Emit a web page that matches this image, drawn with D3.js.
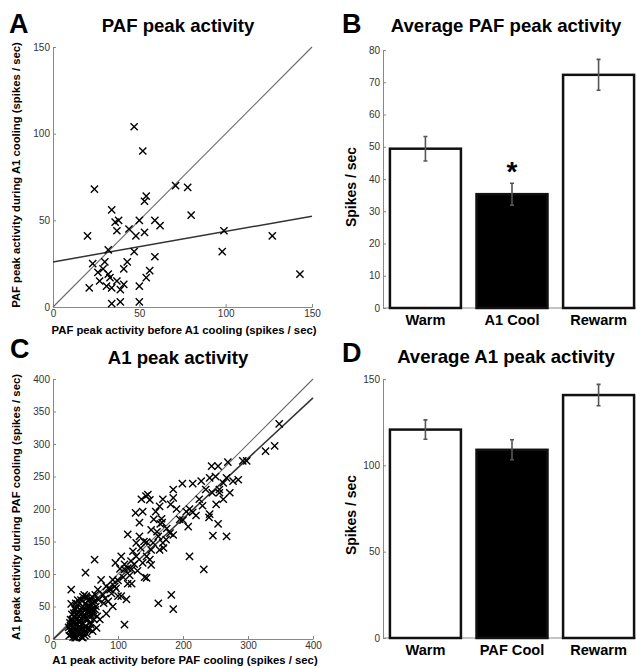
<!DOCTYPE html>
<html>
<head>
<meta charset="utf-8">
<script src="https://cdn.jsdelivr.net/npm/d3@7"></script>
<style>
  body { margin: 0; background: #fff; }
  svg text { font-family: "Liberation Sans", Arial, Helvetica, sans-serif; }
  .axis path, .axis line { stroke: #888; stroke-width: 1; }
  .axis text { fill: #333; font-size: 10px; }
</style>
</head>
<body>
<div id="chart"></div>
<script>
// ---- data ----

// panel A : PAF peak activity, before vs during A1 cooling (spikes/sec)
var pafBefore = [47,52,24,71,78,54,53,80,34,36,38,50,59,62,37,44,48,53,20,99,127,98,47,32,59,143,
                 23,30,43,41,26,29,32,33,27,37,56,54,21,31,34,39,41,50,34,39,50];
var pafDuring = [104,90,68,70,69,64,61,53,56,49,50,50,50,47,44,45,41,43,41,44,41,32,32,33,29,19,
                 25,26,26,22,20,22,19,17,15,15,21,17,11,12,11,10,13,12,2,3,3];
var pafFit = [26, 0.176];          // intercept, slope
var pafTicks = [0, 50, 100, 150];

// panel B : average PAF peak activity
var bCategories = ["Warm", "A1 Cool", "Rewarm"];
var bMeans = [49.4, 35.3, 72.3];
var bErrors = [3.8, 3.4, 4.8];
var bTicks = [0, 10, 20, 30, 40, 50, 60, 70, 80];

// panel C : A1 peak activity, before vs during PAF cooling (spikes/sec)
var a1Before = [348,341,327,298,292,269,285,277,267,254,244,241,228,215,199,185,185,169,181,164,146,136,149,143,
                127,138,133,158,167,168,155,165,195,205,210,208,251,262,256,256,272,262,250,241,240,254,246,267,
                210,232,182,185,162,110,115,64,50,28,28,
                144,154,151,162,169,174,180,164,151,128,133,123,144,128,138,151,149,144,141,121,115,110,121,115,
                105,96,103,92,87,95,82,77,74,69,113,105,100,92,85,82,72,67,56,62,51,46,
                190,200,215,225,235,245,230,220,175,185,160,170,125,130,118,108,100,97,90,88,80,78,70,66,58,60,
                135,140,120,110,
                28,30,32,33,35,36,38,38,40,40,42,43,44,45,46,47,48,49,50,50,52,53,54,55,56,57,58,60,60,62,63,64,65,
                30,32,34,36,31,34,37,39,41,43,46,48,51,53,55,58,61,44,42,39,35,29,27,26,30,33,37,40,45,47,49,52,56,
                59,25,27,29,31,33,35,38,36,42,46,50,54,57,62,65,68,24,26,44,48];
var a1During = [331,297,289,274,274,272,245,243,248,266,266,248,243,239,239,230,217,215,207,204,222,215,214,220,
                194,196,179,196,185,179,184,177,184,196,200,173,207,215,225,230,225,240,250,192,187,177,159,158,
                127,107,68,46,55,22,161,122,102,76,54,
                149,148,168,158,148,153,163,137,137,148,158,135,127,127,117,114,122,94,95,107,109,107,85,85,
                127,117,108,91,78,81,81,68,91,76,61,66,66,50,58,39,30,17,43,55,66,50,
                200,183,195,215,230,225,205,190,170,160,165,140,115,105,98,95,90,78,70,76,62,55,60,50,62,40,
                140,150,120,115,
                12,18,8,25,15,30,5,22,12,35,28,18,3,40,25,10,48,32,20,55,42,15,30,60,48,25,38,52,65,44,30,58,68,
                30,40,45,50,3,2,10,40,55,60,65,68,62,50,35,22,12,48,45,28,22,8,20,14,25,35,38,18,15,35,5,8,15,
                45,5,30,38,12,48,55,60,2,8,2,30,40,50,38,45,35,18,25,22,15];
var a1Fit = [-1, 0.93];            // intercept, slope
var a1XTicks = [0, 100, 200, 300, 400];
var a1YTicks = [0, 50, 100, 150, 200, 250, 300, 350, 400];

// panel D : average A1 peak activity
var dCategories = ["Warm", "PAF Cool", "Rewarm"];
var dMeans = [120.7, 109, 140.7];
var dErrors = [5.6, 5.8, 6.2];
var dTicks = [0, 50, 100, 150];

var svg = d3.select("#chart").append("svg")
    .attr("width", 636)
    .attr("height", 668);

// a cross marker, like MATLAB's 'x'
function cross(g, x, y) {
    var s = 3.6;
    g.append("path")
        .attr("d", "M" + (x - s) + "," + (y - s) + "L" + (x + s) + "," + (y + s) +
                   "M" + (x - s) + "," + (y + s) + "L" + (x + s) + "," + (y - s))
        .attr("stroke", "#000")
        .attr("stroke-width", 1.4)
        .attr("fill", "none");
}

function label(g, txt, x, y, size, anchor, rotate) {
    var t = g.append("text")
        .attr("font-size", size + "px")
        .attr("font-weight", "bold")
        .attr("fill", "#000")
        .attr("text-anchor", anchor || "middle")
        .text(txt);
    if (rotate) t.attr("transform", "translate(" + x + "," + y + ") rotate(-90)");
    else t.attr("x", x).attr("y", y);
    return t;
}

// scatter panel with unity line and regression line
function plot_scatter(opt) {
    var g = svg.append("g");
    var x = d3.scaleLinear().domain(opt.domain).range(opt.xRange);
    var y = d3.scaleLinear().domain(opt.domain).range(opt.yRange);

    g.append("g").attr("class", "axis")
        .attr("transform", "translate(0," + opt.yRange[0] + ")")
        .call(d3.axisBottom(x).tickValues(opt.xTicks).tickSizeInner(-3).tickSizeOuter(0).tickPadding(3));
    g.append("g").attr("class", "axis")
        .attr("transform", "translate(" + opt.xRange[0] + ",0)")
        .call(d3.axisLeft(y).tickValues(opt.yTicks).tickSizeInner(-3).tickSizeOuter(0).tickPadding(3));

    // unity line
    g.append("line")
        .attr("x1", x(opt.domain[0])).attr("y1", y(opt.domain[0]))
        .attr("x2", x(opt.domain[1])).attr("y2", y(opt.domain[1]))
        .attr("stroke", "#6a6a6a").attr("stroke-width", 1.1);

    // linear fit
    var fx0 = Math.max(opt.domain[0], -opt.fit[0] / opt.fit[1]);
    var fx1 = opt.domain[1];
    g.append("line")
        .attr("x1", x(fx0)).attr("y1", y(opt.fit[0] + opt.fit[1] * fx0))
        .attr("x2", x(fx1)).attr("y2", y(opt.fit[0] + opt.fit[1] * fx1))
        .attr("stroke", "#333").attr("stroke-width", 1.5);

    for (var i = 0; i < opt.xs.length; i++) cross(g, x(opt.xs[i]), y(opt.ys[i]));

    label(g, opt.letter, opt.letterPos[0], opt.letterPos[1], 27, "start");
    label(g, opt.title, opt.titlePos[0], opt.titlePos[1], 18.6);
    label(g, opt.xLabel, opt.xLabelPos[0], opt.xLabelPos[1], 11.3);
    label(g, opt.yLabel, opt.yLabelPos[0], opt.yLabelPos[1], 11.3, "middle", true);
}

// bar panel with error bars
function plot_bars(opt) {
    var g = svg.append("g");
    var x = d3.scaleBand().domain(opt.cats).range([383, 641]).paddingInner(0.18).paddingOuter(0.08);
    var y = d3.scaleLinear().domain([0, opt.ticks[opt.ticks.length - 1]]).range(opt.yRange);

    g.append("line").attr("class", "axis")
        .attr("x1", 383).attr("x2", 636)
        .attr("y1", opt.yRange[0]).attr("y2", opt.yRange[0])
        .attr("stroke", "#888");
    g.append("g").attr("class", "axis")
        .attr("transform", "translate(383,0)")
        .call(d3.axisLeft(y).tickValues(opt.ticks).tickSizeInner(-3).tickSizeOuter(0).tickPadding(3));

    g.selectAll("rect.bar")
        .data(opt.cats)
      .enter().append("rect")
        .attr("class", "bar")
        .attr("x", function(d) { return x(d); })
        .attr("width", x.bandwidth())
        .attr("y", function(d, i) { return y(opt.means[i]); })
        .attr("height", function(d, i) { return y(0) - y(opt.means[i]); })
        .attr("fill", function(d, i) { return i === 1 ? "#000" : "#fff"; })
        .attr("stroke", "#111")
        .attr("stroke-width", 2.5);

    opt.cats.forEach(function(c, i) {
        var cx = x(c) + x.bandwidth() / 2;
        var lo = y(opt.means[i] - opt.errs[i]), hi = y(opt.means[i] + opt.errs[i]);
        g.append("path")
            .attr("d", "M" + cx + "," + lo + "V" + hi +
                       "M" + (cx - 2) + "," + lo + "H" + (cx + 2) +
                       "M" + (cx - 2) + "," + hi + "H" + (cx + 2))
            .attr("stroke", "#555").attr("stroke-width", 1.6).attr("fill", "none");
        label(g, c, cx, opt.catY, 14.6);
    });

    if (opt.star) {
        var sx = x(opt.cats[1]) + x.bandwidth() / 2;
        label(g, "*", sx, y(opt.means[1] + opt.errs[1]) - 2, 28);
    }

    label(g, opt.letter, 342, opt.letterY, 27, "start");
    label(g, opt.title, 506, opt.titleY, 18.6);
    label(g, "Spikes / sec", 356, opt.yLabelY, 14, "middle", true);
}

plot_scatter({
    xs: pafBefore, ys: pafDuring, fit: pafFit,
    domain: [0, 150], xRange: [53, 312], yRange: [307, 47],
    xTicks: pafTicks, yTicks: pafTicks,
    letter: "A", letterPos: [9, 33],
    title: "PAF peak activity", titlePos: [178, 32],
    xLabel: "PAF peak activity before A1 cooling (spikes / sec)", xLabelPos: [184, 334],
    yLabel: "PAF peak activity during A1 cooling (spikes / sec)", yLabelPos: [20, 175]
});

plot_bars({
    cats: bCategories, means: bMeans, errs: bErrors, ticks: bTicks,
    yRange: [308, 50], catY: 325, star: true,
    letter: "B", letterY: 33, title: "Average PAF peak activity", titleY: 32, yLabelY: 187
});

plot_scatter({
    xs: a1Before, ys: a1During, fit: a1Fit,
    domain: [0, 400], xRange: [53, 313], yRange: [639, 379],
    xTicks: a1XTicks, yTicks: a1YTicks,
    letter: "C", letterPos: [10, 358],
    title: "A1 peak activity", titlePos: [178, 364],
    xLabel: "A1 peak activity before PAF cooling (spikes / sec)", xLabelPos: [185, 664],
    yLabel: "A1 peak activity during PAF cooling (spikes / sec)", yLabelPos: [20, 507]
});

plot_bars({
    cats: dCategories, means: dMeans, errs: dErrors, ticks: dTicks,
    yRange: [638, 379], catY: 655, star: false,
    letter: "D", letterY: 362, title: "Average A1 peak activity", titleY: 363, yLabelY: 515
});
</script>
</body>
</html>
